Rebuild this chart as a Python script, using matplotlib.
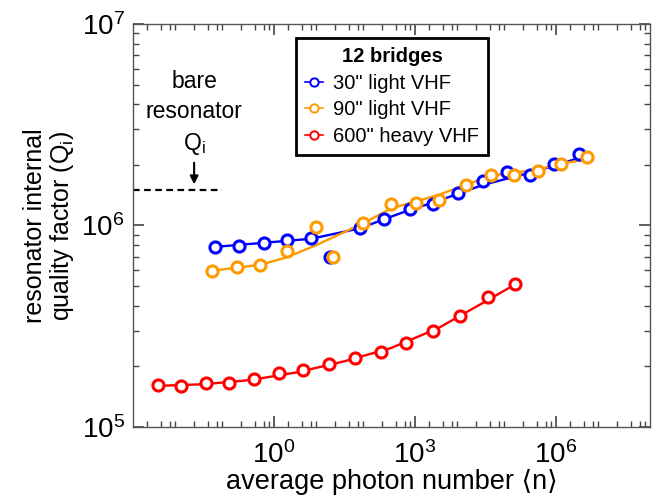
import numpy as np
import matplotlib
matplotlib.use("Agg")
from matplotlib import pyplot as plt
from matplotlib.lines import Line2D
from matplotlib.ticker import LogLocator, FixedLocator, NullFormatter

plt.rcParams['font.family'] = ['Liberation Sans', 'DejaVu Sans']
plt.rcParams['mathtext.fontset'] = 'custom'
plt.rcParams['mathtext.rm'] = 'Liberation Sans'
plt.rcParams['mathtext.it'] = 'Liberation Sans:italic'

# 30" light VHF (log10 of photon number, Qi)
blue_logn = [-1.255, -0.738, -0.213, 0.277, 0.787, 1.830, 2.340, 2.894, 3.377,
             3.909, 4.453, 4.951, 5.447, 5.957, 6.496]
blue_q = [7.84e5, 7.93e5, 8.18e5, 8.44e5, 8.63e5, 9.7e5, 1.08e6, 1.21e6, 1.28e6,
          1.45e6, 1.67e6, 1.84e6, 1.79e6, 2.01e6, 2.27e6]
blue_out_logn = [1.191]
blue_out_q = [7.0e5]
blue_fit_logn = [-1.255, 0.787, 1.830, 2.340, 2.894, 3.377, 3.909, 4.453, 4.951,
                 5.447, 5.957, 6.496]
blue_fit_q = [7.83e5, 8.59e5, 9.68e5, 1.074e6, 1.197e6, 1.297e6, 1.435e6, 1.592e6,
              1.706e6, 1.828e6, 1.977e6, 2.168e6]

# 90" light VHF
orange_logn = [-1.326, -0.794, -0.298, 0.270, 0.894, 1.900, 2.479, 3.015, 3.511,
               4.079, 4.626, 5.098, 5.623, 6.102, 6.653]
orange_q = [5.96e5, 6.19e5, 6.39e5, 7.43e5, 9.78e5, 1.03e6, 1.28e6, 1.30e6, 1.34e6,
            1.59e6, 1.78e6, 1.79e6, 1.87e6, 2.02e6, 2.18e6]
orange_out_logn = [1.249]
orange_out_q = [6.97e5]
orange_fit_logn = [-1.326, -0.298, 0.270, 0.894, 1.900, 2.504, 3.015, 3.511, 4.079,
                   4.617, 5.085, 5.617, 6.085, 6.653]
orange_fit_q = [5.96e5, 6.38e5, 6.95e5, 7.98e5, 1.026e6, 1.219e6, 1.315e6, 1.422e6,
                1.592e6, 1.766e6, 1.828e6, 1.892e6, 2.028e6, 2.123e6]

# 600" heavy VHF
red_logn = [-2.462, -1.985, -1.453, -0.957, -0.426, 0.113, 0.623, 1.170, 1.723,
            2.266, 2.809, 3.377, 3.957, 4.560, 5.128]
red_q = [1.62e5, 1.59e5, 1.65e5, 1.66e5, 1.74e5, 1.86e5, 1.91e5, 2.06e5, 2.20e5,
         2.35e5, 2.61e5, 3.01e5, 3.54e5, 4.40e5, 5.14e5]
red_fit_logn = [-2.462, -1.5, -0.5, 0.5, 1.5, 2.5, 3.5, 4.5, 5.128]
red_fit_q = [1.60e5, 1.63e5, 1.71e5, 1.87e5, 2.12e5, 2.47e5, 3.10e5, 4.20e5, 5.10e5]

bare_q = 1.5e6
x_major = [1e0, 1e3, 1e6]

series = [
    ('30" light VHF', '#0000ff', blue_logn, blue_q, blue_out_logn, blue_out_q,
     blue_fit_logn, blue_fit_q),
    ('90" light VHF', '#ff9900', orange_logn, orange_q, orange_out_logn, orange_out_q,
     orange_fit_logn, orange_fit_q),
    ('600" heavy VHF', '#ff0000', red_logn, red_q, [], [], red_fit_logn, red_fit_q),
]

fig = plt.figure(figsize=(6.57, 5.0), dpi=100)
ax = fig.add_axes([0.2024, 0.146, 0.787, 0.806])

handles = []
for label, col, xl, q, oxl, oq, fxl, fq in series:
    ax.plot(10 ** np.array(fxl), fq, color=col, lw=1.7, zorder=2)
    ax.plot(10 ** np.array(xl), q, 'o', ls='none', mfc='white', mec=col,
            ms=8, mew=2.2, zorder=3)
    if oxl:
        ax.plot(10 ** np.array(oxl), oq, 'o', ls='none', mfc='white', mec=col,
                ms=8, mew=2.2, zorder=3)
    handles.append(Line2D([], [], color=col, lw=1.2, marker='o', mfc='white',
                          mec=col, ms=6, mew=1.4, label=label))

ax.set_xscale('log')
ax.set_yscale('log')
ax.set_xlim(1e-3, 1e8)
ax.set_ylim(1e5, 1e7)

ax.xaxis.set_major_locator(FixedLocator(x_major))
ax.xaxis.set_minor_locator(LogLocator(base=10.0, subs=[2, 4, 6, 8], numticks=30))
ax.xaxis.set_minor_formatter(NullFormatter())
ax.yaxis.set_major_locator(LogLocator(base=10.0, numticks=10))
ax.yaxis.set_minor_locator(LogLocator(base=10.0, subs=np.arange(2, 10), numticks=30))
ax.yaxis.set_minor_formatter(NullFormatter())

ax.tick_params(which='both', direction='in', top=True, right=True, color='#444444')
ax.tick_params(which='major', length=8, width=1.2, labelsize=20)
ax.tick_params(axis='x', which='major', pad=10)
ax.tick_params(axis='y', which='major', pad=6)
ax.tick_params(which='minor', length=4, width=1.0)
for s in ax.spines.values():
    s.set_color('#555555')
    s.set_linewidth(1.0)

ax.set_xlabel('average photon number \u27e8n\u27e9', fontsize=19.5, labelpad=0)
ax.set_ylabel('resonator internal\nquality factor (Q$_{\\rm i}$)', fontsize=18,
              labelpad=4, linespacing=1.05)

# bare resonator reference
ax.plot([1e-3, 0.08], [bare_q, bare_q], color='black', ls=(0, (3, 2)), lw=1.6)
ax.text(0.02, 3.6e6, 'bare\nresonator\nQ$_{\\rm i}$', ha='center', va='center',
        fontsize=16.5, linespacing=1.4)
ax.annotate('', xy=(0.02, 1.6e6), xytext=(0.02, 2.05e6),
            arrowprops=dict(arrowstyle='-|>', color='black', lw=1.5,
                            mutation_scale=12, shrinkA=0, shrinkB=0))

leg = ax.legend(handles=handles, title='12 bridges', loc='upper left',
                bbox_to_anchor=(0.315, 0.965), borderaxespad=0, fontsize=14.5,
                frameon=True, fancybox=False, edgecolor='black', framealpha=1,
                handlelength=0.9, handletextpad=0.5, borderpad=0.45,
                labelspacing=0.38,
                title_fontproperties={'weight': 'bold', 'size': 14.5})
leg.get_frame().set_linewidth(2.0)

fig.savefig('out.png', dpi=100)
